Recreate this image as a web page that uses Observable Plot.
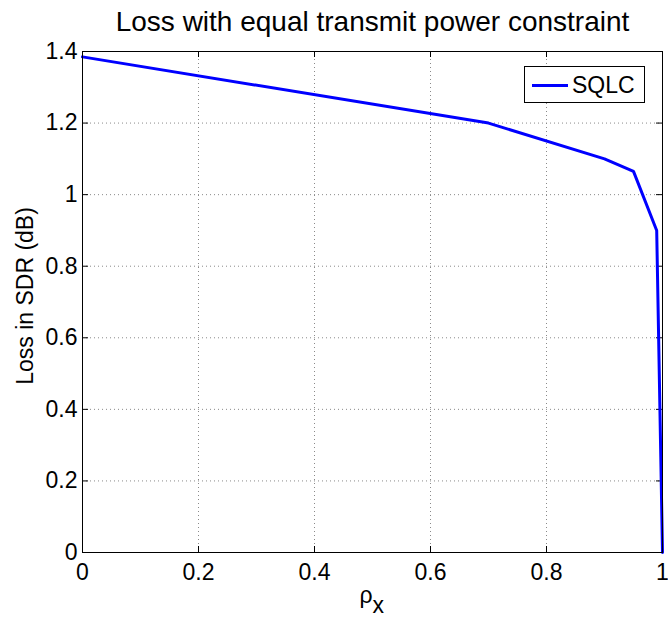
<!DOCTYPE html>
<html>
<head>
<meta charset="utf-8">
<script src="https://cdn.jsdelivr.net/npm/d3@7"></script>
<script src="https://cdn.jsdelivr.net/npm/@observablehq/plot@0.6"></script>
<style>
  body { margin: 0; background: #fff; }
  #chart { position: relative; width: 668px; height: 618px; font-family: "Liberation Sans", Arial, sans-serif; }
  #chart svg { position: absolute; left: 0; top: 0; }
  .legend { position: absolute; left: 524px; top: 66px; width: 119px; height: 35px; border: 1px solid #000; background: #fff; }
  .legend .swatch { position: absolute; left: 7px; top: 17px; width: 36px; height: 3px; background: #0000ff; }
  .legend .label { position: absolute; left: 47px; top: 7px; font-size: 23px; line-height: 23px; color: #000; white-space: nowrap; }
</style>
</head>
<body>
<div id="chart"></div>
<script>
// Correlation coefficient rho_x and the resulting SDR loss of SQLC (dB)
const rho = [0, 0.7, 0.9, 0.95, 0.99, 1];
const loss = [1.385, 1.2, 1.1, 1.065, 0.9, 0];

// Axis ticks
const xTicks = [0, 0.2, 0.4, 0.6, 0.8, 1];
const yTicks = [0, 0.2, 0.4, 0.6, 0.8, 1, 1.2, 1.4];

const seriesName = "SQLC";
const titleText = "Loss with equal transmit power constraint";
const yLabel = "Loss in SDR (dB)";

const data = rho.map((r, i) => ({rho: r, loss: loss[i]}));

const W = 668, H = 618;
const mL = 82, mR = 6, mT = 51, mB = 66;
const frameW = W - mL - mR, frameH = H - mT - mB;
const tickLen = 6;
const fmt = d => `${d}`;
const font = "Liberation Sans, Arial, sans-serif";

const chart = Plot.plot({
  width: W,
  height: H,
  marginLeft: mL,
  marginRight: mR,
  marginTop: mT,
  marginBottom: mB,
  style: {fontFamily: font, background: "#fff", color: "#000"},
  x: {domain: [0, 1], ticks: xTicks},
  y: {domain: [0, 1.4], ticks: yTicks},
  marks: [
    // dotted grid
    Plot.gridX(xTicks, {stroke: "#8a8a8a", strokeOpacity: 1, strokeDasharray: "1,3"}),
    Plot.gridY(yTicks, {stroke: "#8a8a8a", strokeOpacity: 1, strokeDasharray: "1,3"}),
    // inward ticks on all four sides
    Plot.ruleX(xTicks, {x: d => d, insetTop: frameH - tickLen, stroke: "#000"}),
    Plot.ruleX(xTicks, {x: d => d, insetBottom: frameH - tickLen, stroke: "#000"}),
    Plot.ruleY(yTicks, {y: d => d, insetRight: frameW - tickLen, stroke: "#000"}),
    Plot.ruleY(yTicks, {y: d => d, insetLeft: frameW - tickLen, stroke: "#000"}),
    // tick labels
    Plot.axisX(xTicks, {tickSize: 0, tickPadding: 11, fontSize: 23, tickFormat: fmt, label: null}),
    Plot.axisY(yTicks, {tickSize: 0, tickPadding: 5, fontSize: 23, tickFormat: fmt, label: null}),
    // data line
    Plot.line(data, {x: "rho", y: "loss", stroke: "#0000ff", strokeWidth: 3, strokeLinejoin: "miter"}),
    Plot.frame({stroke: "#000", strokeWidth: 1}),
    // title and axis labels
    Plot.text([titleText], {frameAnchor: "top", textAnchor: "middle", dy: -29, fontSize: 28, fill: "#000", lineAnchor: "middle"}),
    Plot.text([yLabel], {frameAnchor: "left", textAnchor: "middle", dx: -57, dy: -6, rotate: -90, fontSize: 23, fill: "#000", lineAnchor: "middle"}),
    Plot.text(["ρ"], {frameAnchor: "bottom", textAnchor: "end", dy: 43, fontSize: 23, fill: "#000", lineAnchor: "middle"}),
    Plot.text(["x"], {frameAnchor: "bottom", textAnchor: "start", dy: 53, fontSize: 23, fill: "#000", lineAnchor: "middle"})
  ]
});

const root = document.getElementById("chart");
root.appendChild(chart);

// legend box
const legend = document.createElement("div");
legend.className = "legend";
const sw = document.createElement("span");
sw.className = "swatch";
const lab = document.createElement("span");
lab.className = "label";
lab.textContent = seriesName;
legend.appendChild(sw);
legend.appendChild(lab);
root.appendChild(legend);
</script>
</body>
</html>
